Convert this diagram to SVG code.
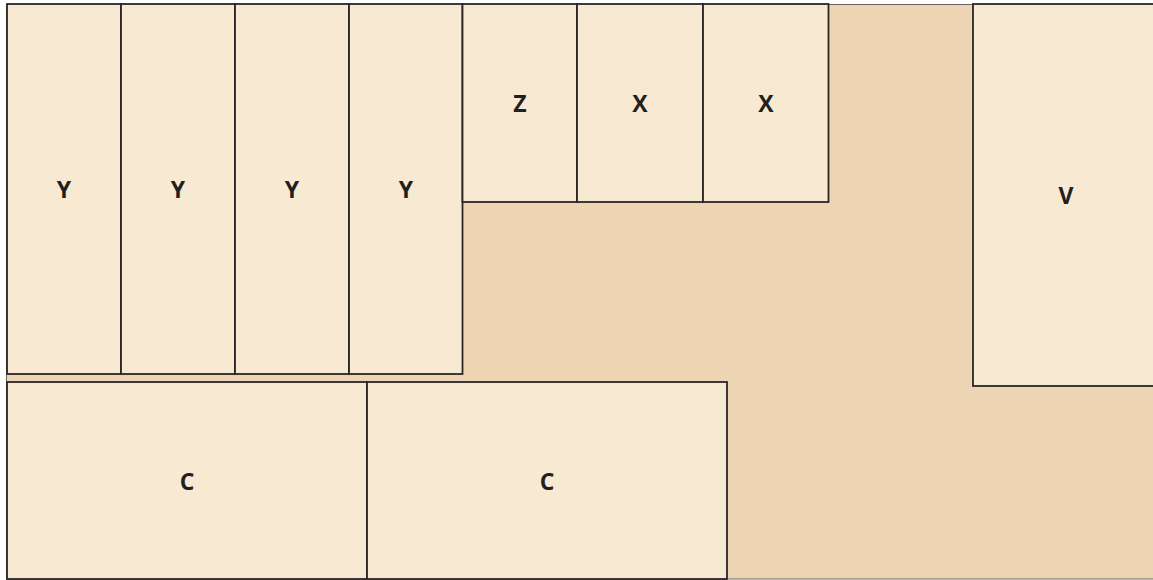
<svg xmlns="http://www.w3.org/2000/svg" width="1153" height="580" viewBox="0 0 1153 580">
<style>
.bg{fill:#EDD5B3;stroke:#6b6466;stroke-width:1}
.box{fill:#F8E9D2;stroke:#2a2527;stroke-width:1.8}
.lbl{font-family:"Open Sans","Liberation Sans",sans-serif;font-weight:700;font-size:23px;fill:#231f20;text-anchor:middle;dominant-baseline:central}
</style>
<rect width="1153" height="580" fill="#ffffff"/>
<rect class="bg" x="6.5" y="4.5" width="1160" height="574.5"/>
<g id="y1"><rect class="box" x="7" y="4" width="114" height="370"/><text class="lbl" x="64" y="189">Y</text></g>
<g id="y2"><rect class="box" x="121" y="4" width="114" height="370"/><text class="lbl" x="178" y="189">Y</text></g>
<g id="y3"><rect class="box" x="235" y="4" width="114" height="370"/><text class="lbl" x="292" y="189">Y</text></g>
<g id="y4"><rect class="box" x="349" y="4" width="113.5" height="370"/><text class="lbl" x="406" y="189">Y</text></g>
<g id="z"><rect class="box" x="462.5" y="4" width="114.5" height="198"/><text class="lbl" x="520" y="103">Z</text></g>
<g id="x1"><rect class="box" x="577" y="4" width="126" height="198"/><text class="lbl" x="640" y="103">X</text></g>
<g id="x2"><rect class="box" x="703" y="4" width="125.5" height="198"/><text class="lbl" x="766" y="103">X</text></g>
<g id="v"><rect class="box" x="973" y="4" width="190" height="382"/><text class="lbl" x="1066" y="195">V</text></g>
<g id="c1"><rect class="box" x="7" y="382" width="360" height="197"/><text class="lbl" x="187" y="481">C</text></g>
<g id="c2"><rect class="box" x="367" y="382" width="360" height="197"/><text class="lbl" x="547" y="481">C</text></g>
<g id="connectors"></g>
</svg>
